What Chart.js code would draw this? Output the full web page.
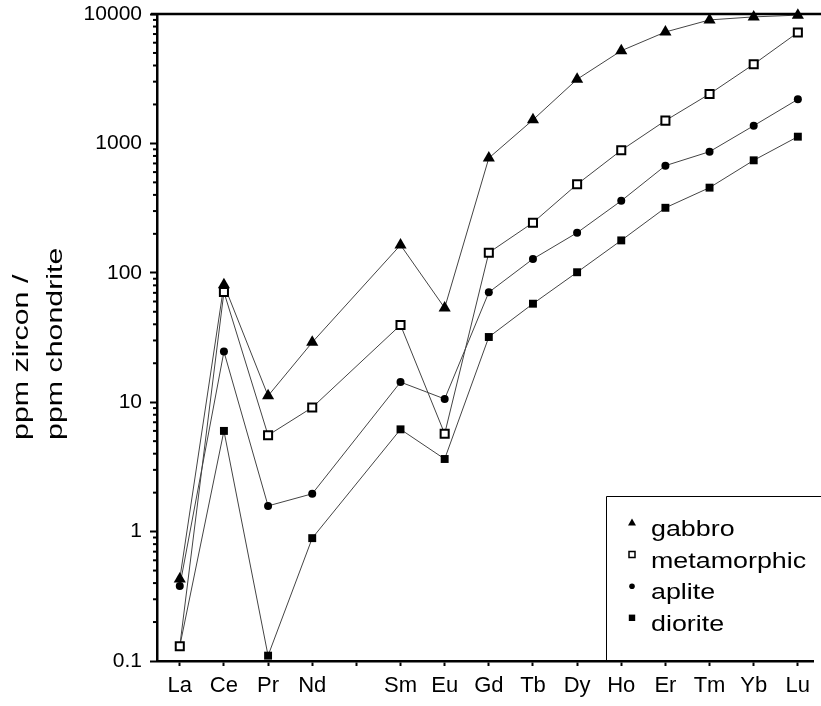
<!DOCTYPE html>
<html>
<head>
<meta charset="utf-8">
<script src="https://cdn.jsdelivr.net/npm/chart.js@4/dist/chart.umd.min.js"></script>
<style>
  body { margin: 0; background: #fff; }
  canvas { display: block; }
</style>
</head>
<body>
<canvas id="reeChart" width="821" height="706"></canvas>
<script>
// ===== DATA =====
const elementos = ['La', 'Ce', 'Pr', 'Nd', '', 'Sm', 'Eu', 'Gd', 'Tb', 'Dy', 'Ho', 'Er', 'Tm', 'Yb', 'Lu'];
const gabbro      = [0.43, 81, 11.2, 29, null, 164, 53.5, 770, 1520, 3130, 5200, 7260, 9000, 9500, 9800];
const metamorphic = [0.13, 71, 5.55, 9.1, null, 39.5, 5.7, 143, 244, 483, 885, 1500, 2410, 4090, 7200];
const aplite      = [0.38, 24.6, 1.58, 1.96, null, 14.3, 10.6, 70.7, 128, 204, 360, 673, 863, 1370, 2190];
const diorite     = [0.13, 6.0, 0.11, 0.89, null, 6.17, 3.64, 31.9, 57.7, 101, 178, 318, 455, 740, 1127];
const yTicks = [0.1, 1, 10, 100, 1000, 10000];
const yTickLabels = ['0.1', '1', '10', '100', '1000', '10000'];
const yTitle = ['ppm zircon /', 'ppm chondrite'];

const FONT = '"Liberation Sans", Arial, Helvetica, sans-serif';

const toXY = arr => arr.map((v, i) => ({ x: i, y: v }));

const series = [
    { label: 'gabbro', data: gabbro, style: 'triangle', fill: '#000', radius: 7, bw: 0, order: 1 },
    { label: 'metamorphic', data: metamorphic, style: 'rect', fill: '#fff', radius: 5.7, bw: 2, order: 0 },
    { label: 'aplite', data: aplite, style: 'circle', fill: '#000', radius: 4, bw: 0, order: 2 },
    { label: 'diorite', data: diorite, style: 'rect', fill: '#000', radius: 5.6, bw: 0, order: 3 }
];

// ===== extra drawing: minor ticks, top line, legend, axis title =====
const decoraciones = {
    id: 'decoraciones',
    afterDraw(chart) {
        const ctx = chart.ctx;
        const area = chart.chartArea;
        const y = chart.scales.y;
        ctx.save();
        ctx.strokeStyle = '#000';

        // minor ticks
        ctx.lineWidth = 2;
        for (let d = -1; d < 4; d++) {
            for (let k = 2; k <= 9; k++) {
                const py = y.getPixelForValue(k * Math.pow(10, d));
                ctx.beginPath();
                ctx.moveTo(area.left - 4, py);
                ctx.lineTo(area.left, py);
                ctx.stroke();
            }
        }

        // top line
        ctx.lineWidth = 2.5;
        ctx.beginPath();
        ctx.moveTo(area.left - 6, area.top);
        ctx.lineTo(chart.width, area.top);
        ctx.stroke();

        // legend box
        const boxLeft = 606.5, boxTop = 496.5;
        ctx.lineWidth = 1;
        ctx.beginPath();
        ctx.moveTo(boxLeft, area.bottom);
        ctx.lineTo(boxLeft, boxTop);
        ctx.lineTo(chart.width, boxTop);
        ctx.stroke();

        ctx.font = '22px ' + FONT;
        ctx.fillStyle = '#000';
        ctx.textBaseline = 'alphabetic';
        series.forEach((s, i) => {
            const base = 536 + i * 31.6;
            const mx = 632, my = base - 13;
            ctx.beginPath();
            if (s.style === 'triangle') {
                ctx.moveTo(mx, my - 4.5);
                ctx.lineTo(mx + 4, my + 2.5);
                ctx.lineTo(mx - 4, my + 2.5);
                ctx.closePath();
                ctx.fill();
            } else if (s.style === 'circle') {
                ctx.arc(mx, my, 2.8, 0, Math.PI * 2);
                ctx.fill();
            } else if (s.fill === '#fff') {
                ctx.lineWidth = 1.5;
                ctx.rect(mx - 3, my - 3, 6, 6);
                ctx.stroke();
            } else {
                ctx.rect(mx - 3.2, my - 3.2, 6.4, 6.4);
                ctx.fill();
            }
            ctx.save();
            ctx.translate(651, base);
            ctx.scale(1.22, 1);
            ctx.fillText(s.label, 0, 0);
            ctx.restore();
        });

        // y axis title
        ctx.save();
        ctx.font = '22px ' + FONT;
        ctx.translate(0, 440);
        ctx.rotate(-Math.PI / 2);
        ctx.scale(1.38, 1);
        ctx.fillText(yTitle[0], 0, 28);
        ctx.fillText(yTitle[1], 0, 62);
        ctx.restore();

        ctx.restore();
    }
};

new Chart(document.getElementById('reeChart'), {
    type: 'line',
    data: {
        datasets: series.map(s => ({
            label: s.label,
            data: toXY(s.data),
            order: s.order,
            spanGaps: true,
            clip: false,
            borderColor: '#444',
            borderWidth: 1,
            tension: 0,
            pointStyle: s.style,
            pointRadius: s.radius,
            pointBackgroundColor: s.fill,
            pointBorderColor: '#000',
            pointBorderWidth: s.bw
        }))
    },
    options: {
        responsive: false,
        animation: false,
        layout: { padding: { top: 14, right: 1, left: 0, bottom: 0 } },
        plugins: {
            legend: { display: false },
            title: { display: false },
            tooltip: { enabled: false }
        },
        scales: {
            x: {
                type: 'linear',
                min: -0.516,
                max: 14.35,
                afterBuildTicks: scale => {
                    scale.ticks = elementos.map((_, i) => ({ value: i }));
                },
                afterFit: scale => {
                    scale.height = 45;
                    scale.paddingLeft = 0;
                    scale.paddingRight = 0;
                },
                border: { display: true, color: '#000', width: 2.5 },
                grid: {
                    drawOnChartArea: false,
                    drawTicks: true,
                    tickLength: 5,
                    tickWidth: 2,
                    tickColor: '#000'
                },
                ticks: {
                    autoSkip: false,
                    maxRotation: 0,
                    padding: 7,
                    color: '#000',
                    font: { family: FONT, size: 22 },
                    callback: v => elementos[v]
                }
            },
            y: {
                type: 'logarithmic',
                min: 0.1,
                max: 10000,
                afterBuildTicks: scale => {
                    scale.ticks = yTicks.map(v => ({ value: v }));
                },
                afterFit: scale => {
                    scale.width = 157;
                    scale.paddingTop = 0;
                    scale.paddingBottom = 0;
                },
                border: { display: true, color: '#000', width: 2.5 },
                grid: {
                    drawOnChartArea: false,
                    drawTicks: true,
                    tickLength: 7,
                    tickWidth: 2,
                    tickColor: '#000'
                },
                ticks: {
                    padding: 8,
                    color: '#000',
                    font: { family: FONT, size: 21 },
                    callback: (v, i) => yTickLabels[i]
                }
            }
        }
    },
    plugins: [decoraciones]
});
</script>
</body>
</html>
